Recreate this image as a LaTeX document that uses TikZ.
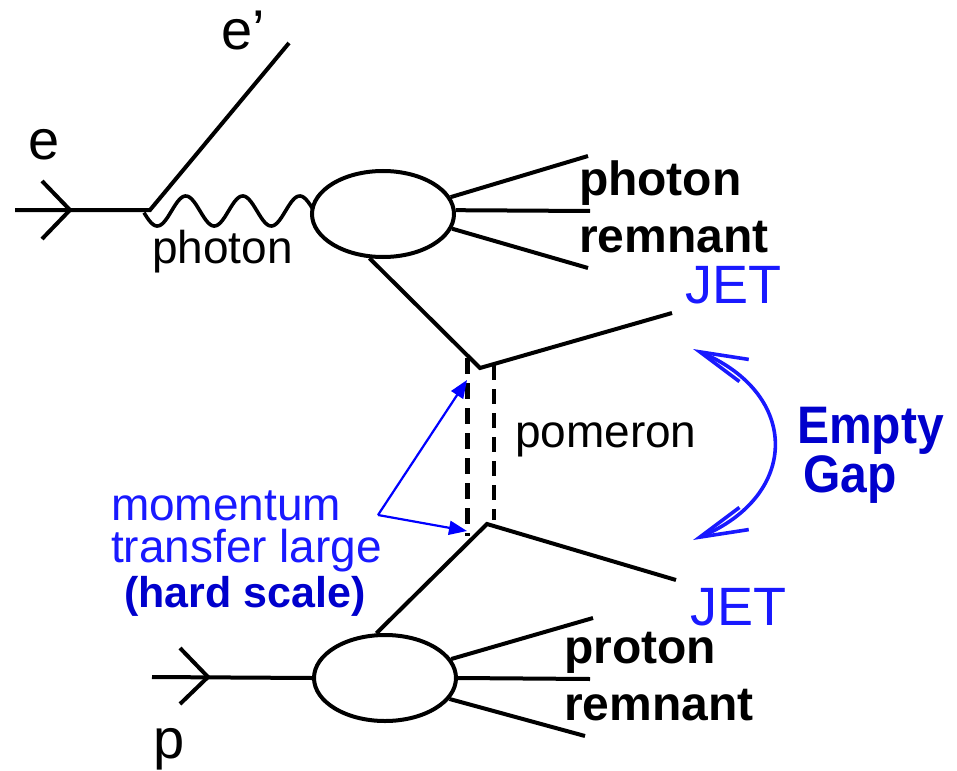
\documentclass[tikz,border=0pt]{standalone}
\usepackage{fontspec}
\setmainfont{Liberation Sans}
\usetikzlibrary{arrows.meta,shapes.geometric}
\definecolor{tblue}{RGB}{25,25,255}
\definecolor{dblue}{RGB}{0,0,204}
\begin{document}
\begin{tikzpicture}[x=1pt,y=-1pt,
  line/.style={line width=4pt},
  blob/.style={draw, ellipse, line width=4pt, minimum width=142pt, minimum height=86pt, inner sep=0pt},
  lbl/.style={anchor=base west, inner sep=0pt, outer sep=0pt},
  bigtxt/.style={font=\fontsize{56}{60}\selectfont},
  midtxt/.style={font=\fontsize{46}{50}\selectfont},
  boldtxt/.style={font=\fontsize{48}{52}\selectfont\bfseries},
  jettxt/.style={font=\fontsize{54}{58}\selectfont, text=tblue},
  bluetxt/.style={font=\fontsize{46}{50}\selectfont, text=tblue},
  hardtxt/.style={font=\fontsize{43}{47}\selectfont\bfseries, text=dblue},
  gaptxt/.style={font=\fontsize{48}{52}\selectfont\bfseries, text=dblue},
  pointer/.style={blue, line width=2.2pt, -{Triangle[length=18pt,width=14pt]}},
  chev/.style={line width=4pt},
  gapbarb/.tip={Straight Barb[length=48pt,width=24pt]}
]
\useasboundingbox (0,0) rectangle (957,770);
% blobs
\node[blob] (ub) at (383,214) {};
\node[blob] (lb) at (385,678) {};
% coordinates
\coordinate (ein) at (15,210);
\coordinate (evtx) at (150,210);
\coordinate (eout) at (289,43);
\coordinate (earr) at (70,210);
\coordinate (pin) at (152,677);
\coordinate (parr) at (208,677);
\coordinate (uv) at (480,368);
\coordinate (lv) at (487,524);
\coordinate (ujet) at (672,313);
\coordinate (ljet) at (676,580);
\coordinate (ur1) at (588,156);
\coordinate (ur2) at (590,211);
\coordinate (ur3) at (588,268);
\coordinate (lr1) at (593,618);
\coordinate (lr2) at (590,679);
\coordinate (lr3) at (585,736);
\coordinate (mt) at (378,515);
\coordinate (tipA) at (467,380);
\coordinate (tipB) at (467,531);
\coordinate (gapA) at (693,349);
\coordinate (gapB) at (693,540);
\coordinate (dlA) at (467,358);
\coordinate (dlB) at (467,536);
\coordinate (drA) at (494,365);
\coordinate (drB) at (494,520);
% electron
\draw[line] (ein) -- (evtx) -- (eout);
\draw[chev] ([shift={(-28,-29)}]earr) -- (earr) -- ([shift={(-28,29)}]earr);
% photon wiggle
\draw[line width=3.6pt] plot[smooth, domain=144:313, samples=120] (\x, {211+15*sin(6.31579*(\x-143))});
% upper blob lines
\draw[line] (ub.14) -- (ur1);
\draw[line] (ub.3) -- (ur2);
\draw[line] (ub.-12) -- (ur3);
\draw[line] (ub.-107) -- (uv) -- (ujet);
% lower
\draw[line] (pin) -- (lb.west);
\draw[chev] ([shift={(-28,-29)}]parr) -- (parr) -- ([shift={(-28,27)}]parr);
\draw[line] (lb.101) -- (lv) -- (ljet);
\draw[line] (lb.16) -- (lr1);
\draw[line] (lb.0) -- (lr2);
\draw[line] (lb.-18) -- (lr3);
% pomeron
\draw[line width=5pt, dash pattern=on 16pt off 9pt] (dlA) -- (dlB);
\draw[line width=3.6pt, dash pattern=on 15pt off 9pt] (drA) -- (drB);
% pointers
\draw[pointer] (mt) -- (tipA);
\draw[pointer] (mt) -- (tipB);
% gap arrow
\draw[tblue, line width=3.6pt, gapbarb-gapbarb] (gapA) .. controls (800,394) and (800,495) .. (gapB);
% labels
\node[lbl, bigtxt] (le) at (28,160) {e};
\node[lbl, bigtxt] (lep) at (221,50) {e’};
\node[lbl, bigtxt] (lp) at (153,758) {p};
\node[lbl, midtxt] (lphot) at (152,263) {photon};
\node[lbl, boldtxt] (lpr1) at (579,195) {photon};
\node[lbl, boldtxt] (lpr2) at (579,252) {remnant};
\node[lbl, boldtxt] (lpp1) at (564,663) {proton};
\node[lbl, boldtxt] (lpp2) at (564,720) {remnant};
\node[lbl, jettxt] (ljet1) at (685,303) {JET};
\node[lbl, jettxt] (ljet2) at (690,625) {JET};
\node[lbl, midtxt] (lpom) at (515,447) {pomeron};
\node[lbl, bluetxt] (lmom) at (111,520) {momentum};
\node[lbl, bluetxt] (ltr) at (111,562) {transfer large};
\node[lbl, hardtxt] (lhard) at (124,607) {(hard scale)};
\node[lbl, gaptxt, yscale=1.1] (lemp) at (797,443) {Empty};
\node[lbl, gaptxt, yscale=1.1] (lgap) at (803,492) {Gap};
\end{tikzpicture}
\end{document}
